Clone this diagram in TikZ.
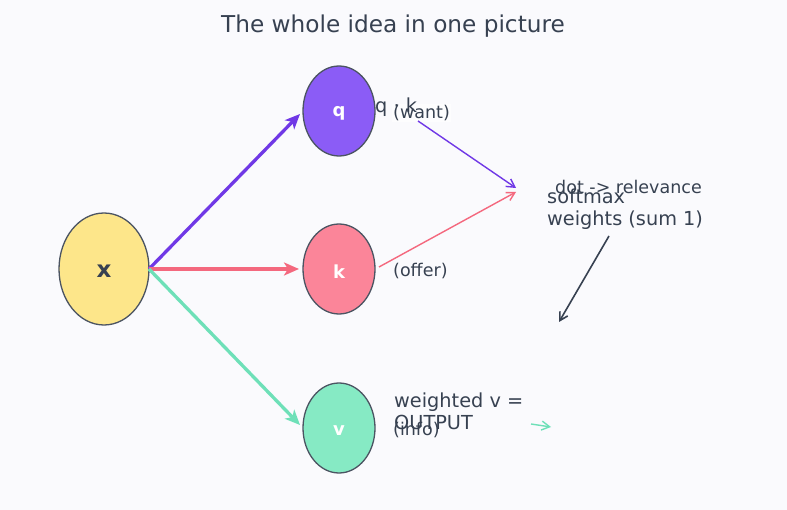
\documentclass[tikz,border=0pt]{standalone}
\usepackage{fontspec}
\setmainfont{DejaVu Sans}
\usetikzlibrary{shapes.geometric,arrows.meta}
\definecolor{bgc}{HTML}{FAFAFD}
\definecolor{ink}{HTML}{374151}
\definecolor{xfill}{HTML}{FDE68A}
\definecolor{qfill}{HTML}{8B5CF6}
\definecolor{kfill}{HTML}{FB8599}
\definecolor{vfill}{HTML}{86EAC4}
\definecolor{qline}{HTML}{7038E6}
\definecolor{kline}{HTML}{F4687E}
\definecolor{vline}{HTML}{6EE0B8}
\tikzset{
  blob/.style={ellipse, draw=ink!90, line width=1.3pt, inner sep=0pt},
  proj/.style={blob, minimum width=72pt, minimum height=90pt},
  tag/.style={text=white, font=\fontsize{18}{20}\selectfont\bfseries, yshift=-2.5pt},
  feed/.style={line width=3.3pt, -{Stealth[length=15pt,width=13pt,inset=4pt]}},
  thin/.style={line width=1.4pt, -{Straight Barb[length=8pt,width=9pt]}},
  lbl/.style={text=ink, inner sep=1pt, anchor=west},
  small/.style={font=\fontsize{17.5}{20}\selectfont},
  big/.style={font=\fontsize{19.3}{22}\selectfont},
}
\begin{document}
\begin{tikzpicture}[x=1pt,y=-1pt]
\fill[bgc] (0,0) rectangle (787,510);
\useasboundingbox (0,0) rectangle (787,510);

\node[text=ink, font=\fontsize{23.2}{26}\selectfont] (title) at (393,26) {The whole idea in one picture};

% input and its three projections
\node[blob, fill=xfill, minimum width=90pt, minimum height=112pt] (x) at (104,269) {};
\node[text=ink, font=\fontsize{23}{26}\selectfont\bfseries] (xt) at (104,271) {x};
\node[proj, fill=qfill] (q) at (339,111) {};
\node[proj, fill=kfill] (k) at (339,269) {};
\node[proj, fill=vfill] (v) at (339,428) {};
\node[tag] (qt) at (q.center) {q};
\node[tag] (kt) at (k.center) {k};
\node[tag] (vt) at (v.center) {v};

\coordinate (xo) at (149,269);
\coordinate (qi) at (300,114);
\coordinate (ki) at (299,269);
\coordinate (vi) at (300,425);
\draw[feed, qline] (xo) -- (qi);
\draw[feed, kline] (xo) -- (ki);
\draw[feed, vline] (xo) -- (vi);

% role labels
\node[lbl, small, fill=white, fill opacity=0.6, text opacity=1] (want) at (392,113) {(want)};
\node[lbl, big] (qk) at (374,107) {q · k};
\node[lbl, small] (offer) at (392,271) {(offer)};
\node[lbl, small] (info) at (392,430) {(info)};

% score and weighting
\coordinate (qs) at (418,121);
\coordinate (ks) at (379,267);
\coordinate (meet) at (516,188);
\coordinate (meet2) at (516,192);
\draw[thin, qline] (qs) -- (meet);
\draw[thin, kline] (ks) -- (meet2);

\node[lbl, small] (dot) at (554,187) {dot -> relevance};
\node[lbl, big, align=left, anchor=north west, inner sep=0pt] (soft) at (547,189)
  {softmax\\weights (sum 1)};
\coordinate (sd) at (609,236);
\coordinate (se) at (559,322);
\draw[thin, ink, line width=1.6pt] (sd) -- (se);

\node[lbl, big, align=left, anchor=north west, inner sep=0pt] (out) at (394,393)
  {weighted v =\\OUTPUT};
\coordinate (vs) at (531,424);
\coordinate (ve) at (551,427);
\draw[thin, vline] (vs) -- (ve);
\end{tikzpicture}
\end{document}
